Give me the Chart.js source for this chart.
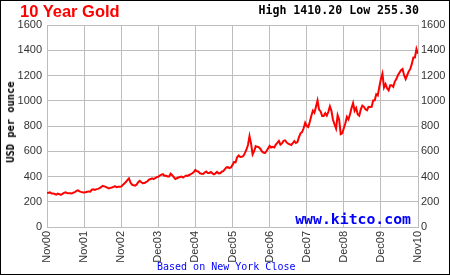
<!DOCTYPE html>
<html>
<head>
<meta charset="utf-8">
<script src="https://cdn.jsdelivr.net/npm/chart.js@4"></script>
<style>
  html, body { margin: 0; padding: 0; background: #fff; }
  #wrap { position: relative; width: 450px; height: 275px; overflow: hidden; }
  #wrap canvas { position: absolute; left: 0; top: 0; }
  .txt { position: absolute; white-space: nowrap; }
  #title { left: 20px; top: 2px; font: bold 16.5px "Liberation Sans", Arial, sans-serif; color: #ff0000; }
  #hilo { right: 31px; top: 3px; font: bold 11.6px "DejaVu Sans Mono", monospace; color: #000; }
  #ylab { left: 10px; top: 122px; font: bold 10.4px "DejaVu Sans Mono", monospace; color: #000;
          transform: translate(-50%, -50%) rotate(-90deg); }
  #kitco { right: 39px; top: 210px; font: bold 14.8px "DejaVu Sans Mono", monospace; color: #0000ff; }
  #note { left: 157px; top: 261px; font: 10px "DejaVu Sans Mono", monospace; color: #0000ff; }
  #frame { position: absolute; left: 0; top: 0; width: 450px; height: 275px; box-sizing: border-box; border: 1px solid #000; pointer-events: none; }
</style>
</head>
<body>
<div id="wrap">
  <canvas id="goldChart" width="450" height="275"></canvas>
  <div class="txt" id="title">10 Year Gold</div>
  <div class="txt" id="hilo">High 1410.20 Low 255.30</div>
  <div class="txt" id="ylab">USD per ounce</div>
  <div class="txt" id="kitco">www.kitco.com</div>
  <div class="txt" id="note">Based on New York Close</div>
  <div id="frame"></div>
</div>
<script>
// tick labels on the x axis, one per year gridline
const xTickLabels = ['Nov00', 'Nov01', 'Nov02', 'Dec03', 'Dec04', 'Dec05', 'Dec06', 'Dec07', 'Dec08', 'Dec09', 'Nov10'];
const yTicks = [0, 200, 400, 600, 800, 1000, 1200, 1400, 1600];

// gold close, roughly twice a month
const prices2000 = [268, 272, 274];
const prices2001 = [265, 266, 261, 256, 264, 260, 255, 262, 270, 274, 270, 268,
                    267, 265, 272, 276, 286, 290, 282, 278, 275, 273, 276, 279];
const prices2002 = [282, 280, 295, 298, 294, 300, 302, 308, 315, 326, 322, 318,
                    312, 305, 310, 313, 318, 323, 315, 318, 318, 320, 332, 345];
const prices2003 = [356, 372, 385, 352, 335, 330, 328, 336, 355, 366, 355, 346,
                    348, 356, 362, 375, 380, 386, 380, 388, 395, 398, 408, 415];
const prices2004 = [418, 405, 405, 400, 400, 422, 410, 395, 380, 386, 392, 396,
                    400, 392, 400, 408, 405, 412, 418, 426, 436, 452, 442, 438];
const prices2005 = [425, 422, 420, 432, 440, 428, 428, 435, 425, 418, 425, 436,
                    425, 426, 438, 442, 456, 472, 474, 466, 472, 492, 515, 512];
const prices2006 = [552, 566, 555, 556, 562, 585, 612, 650, 720, 660, 575, 600,
                    640, 635, 632, 620, 600, 590, 585, 602, 622, 642, 630, 635];
const prices2007 = [630, 652, 666, 682, 652, 662, 682, 686, 670, 660, 655, 650,
                    665, 680, 665, 672, 712, 742, 752, 782, 825, 800, 792, 832];
const prices2008 = [882, 922, 905, 952, 1002, 930, 915, 880, 880, 902, 882, 912,
                    955, 920, 850, 812, 780, 885, 850, 735, 742, 782, 822, 872];
const prices2009 = [852, 892, 942, 982, 920, 942, 892, 882, 932, 962, 952, 932,
                    925, 952, 950, 952, 1002, 1004, 1052, 1042, 1112, 1172, 1215, 1105];
const prices2010 = [1132, 1098, 1082, 1122, 1122, 1110, 1152, 1172, 1202, 1222, 1242, 1252,
                    1202, 1172, 1202, 1232, 1252, 1292, 1342, 1342, 1410, 1372];

const goldPrices = [].concat(prices2000, prices2001, prices2002, prices2003, prices2004,
                             prices2005, prices2006, prices2007, prices2008, prices2009, prices2010);
const goldPoints = goldPrices.map((v, i) => ({ x: i, y: v }));
const lastIndex = goldPrices.length - 1;
const tickStep = lastIndex / (xTickLabels.length - 1);

const tickFont = { family: '"Liberation Sans", Arial, sans-serif', size: 11 };
const gridColor = '#bdbdbd';

const ctx = document.getElementById('goldChart').getContext('2d');
new Chart(ctx, {
    type: 'line',
    data: {
        datasets: [{
            data: goldPoints,
            borderColor: '#ff0000',
            borderWidth: 2,
            pointRadius: 0,
            tension: 0,
            fill: false
        }]
    },
    options: {
        responsive: false,
        animation: false,
        events: [],
        layout: { padding: { top: 25, left: 0, right: 0, bottom: 0 } },
        plugins: { legend: { display: false }, tooltip: { enabled: false } },
        scales: {
            x: {
                type: 'linear',
                min: 0,
                max: lastIndex,
                afterFit: s => { s.height = 48; },
                afterBuildTicks: s => {
                    s.ticks = xTickLabels.map((_, i) => ({ value: i * tickStep }));
                },
                ticks: {
                    autoSkip: false,
                    maxRotation: 90,
                    minRotation: 90,
                    padding: 4,
                    color: '#333',
                    font: tickFont,
                    callback: (v, i) => xTickLabels[i]
                },
                grid: { color: gridColor, drawTicks: false },
                border: { color: gridColor }
            },
            y: {
                position: 'left',
                min: 0,
                max: 1600,
                afterFit: s => { s.width = 47; },
                afterBuildTicks: s => { s.ticks = yTicks.map(v => ({ value: v })); },
                ticks: { padding: 5, color: '#333', font: tickFont, callback: v => String(v) },
                grid: { color: gridColor, drawTicks: false },
                border: { color: gridColor }
            },
            y2: {
                position: 'right',
                min: 0,
                max: 1600,
                afterFit: s => { s.width = 32; },
                afterBuildTicks: s => { s.ticks = yTicks.map(v => ({ value: v })); },
                ticks: { padding: 3, color: '#333', font: tickFont, callback: v => String(v) },
                grid: { display: false, drawTicks: false },
                border: { color: gridColor }
            }
        }
    }
});
</script>
</body>
</html>
